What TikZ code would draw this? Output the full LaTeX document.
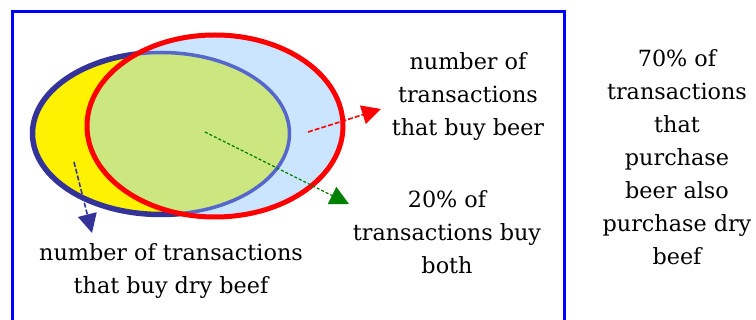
\documentclass[tikz,border=0pt]{standalone}
\usepackage{fontspec}
\setmainfont{DejaVu Serif}
\usetikzlibrary{arrows.meta}
\definecolor{frameblue}{RGB}{0,0,255}
\definecolor{navy}{RGB}{51,51,153}
\definecolor{midblue}{RGB}{85,102,204}
\definecolor{lightblue}{RGB}{204,229,255}
\definecolor{overlap}{RGB}{204,230,128}
\definecolor{arrred}{RGB}{255,0,0}
\definecolor{arrgreen}{RGB}{0,128,0}
\tikzset{
  lbl/.style={align=center, font=\fontsize{22.3}{33}\selectfont, text=black, inner sep=0pt},
  pointer/.style={line width=1.6pt, dash pattern=on 5pt off 2pt, -{Triangle[length=19pt,width=19pt]}},
}
\begin{document}
\begin{tikzpicture}[x=1pt,y=-1pt]
\useasboundingbox (0,0) rectangle (756,320);
\fill[white] (0,0) rectangle (756,320);
% frame
\draw[frameblue, line width=3pt] (564,330) -- (564,12) -- (12,12) -- (12,330);
% dry beef ellipse
\draw[navy, line width=5.5pt, fill=yellow] (161,133.5) ellipse [x radius=128.5, y radius=81];
% beer ellipse fill
\fill[lightblue] (215,126) ellipse [x radius=128, y radius=91];
\begin{scope}
  \clip (215,126) ellipse [x radius=128, y radius=91];
  \fill[overlap] (161,133.5) ellipse [x radius=128.5, y radius=81];
  \draw[midblue, line width=3.5pt] (161,133.5) ellipse [x radius=128.5, y radius=81];
\end{scope}
\draw[arrred, line width=5pt] (215,126) ellipse [x radius=128, y radius=91];
% arrow coordinates
\coordinate (beerTail) at (308,132);
\coordinate (beerHead) at (381,109);
\coordinate (bothTail) at (205,132);
\coordinate (bothHead) at (349,204);
\coordinate (beefTail) at (74,162);
\coordinate (beefHead) at (92,233);
\draw[pointer, arrred] (beerTail) -- (beerHead);
\draw[pointer, arrgreen, line width=1.3pt, dash pattern=on 3pt off 2pt] (bothTail) -- (bothHead);
\draw[pointer, navy] (beefTail) -- (beefHead);
% labels
\node[lbl] (beefLbl) at (171,271) {number of transactions\\that buy dry beef};
\node[lbl] (beerLbl) at (468,97) {number of\\transactions\\that buy beer};
\node[lbl] (bothLbl) at (447,232) {20\% of\\transactions buy\\both};
\node[lbl] (ruleLbl) at (677,157) {70\% of\\transactions\\that\\purchase\\beer also\\purchase dry\\beef};
\end{tikzpicture}
\end{document}
